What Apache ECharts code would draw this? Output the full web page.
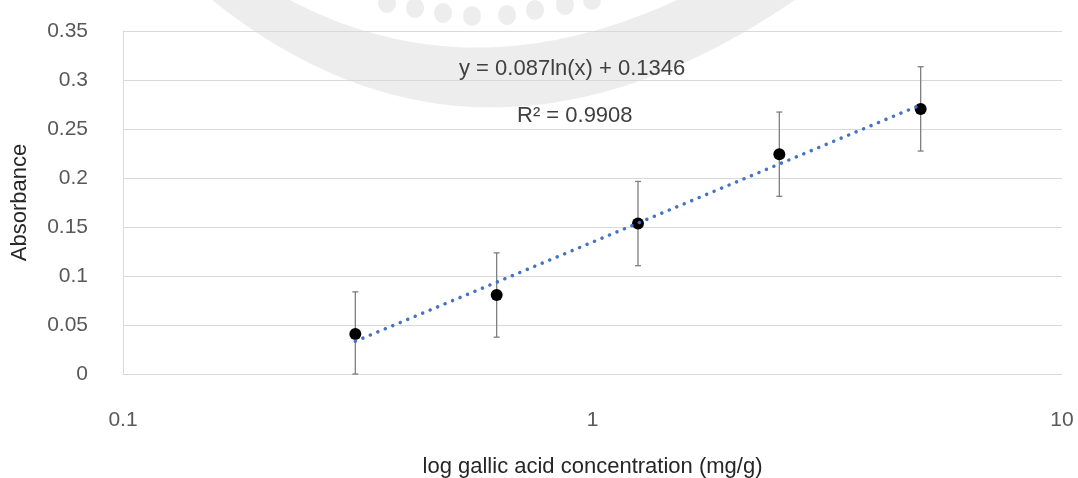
<!DOCTYPE html>
<html>
<head>
<meta charset="utf-8">
<script src="https://cdn.jsdelivr.net/npm/echarts@6/dist/echarts.min.js"></script>
<style>html,body{margin:0;padding:0;background:#fff}#c{width:1078px;height:478px}</style>
</head>
<body>
<div id="c"></div>
<script>
const concentrations = [0.3125, 0.625, 1.25, 2.5, 5];
const absorbance = [0.0408, 0.0806, 0.1535, 0.2243, 0.2705];
const errorPlus = [0.043, 0.043, 0.043, 0.043, 0.043];
const errorMinus = [0.043, 0.043, 0.043, 0.043, 0.043];
const trendX = [0.3125, 5];
const trendY = [0.0334, 0.2746];
const equationText = 'y = 0.087ln(x) + 0.1346';
const r2Text = 'R² = 0.9908';

const chart = echarts.init(document.getElementById('c'), null, {renderer: 'canvas'});
const errData = concentrations.map((x, i) => [x, Math.max(0, absorbance[i] - errorMinus[i]), absorbance[i] + errorPlus[i]]);
const txtColor = '#595959';
const font = 'Liberation Sans, Arial, sans-serif';
const wm = 'rgba(0,0,0,0.07)';

// faint background watermark (decoration)
function quadPts(p0, c, p1, n) {
  const out = [];
  for (let i = 0; i <= n; i++) {
    const t = i / n, u = 1 - t;
    out.push([u * u * p0[0] + 2 * u * t * c[0] + t * t * p1[0], u * u * p0[1] + 2 * u * t * c[1] + t * t * p1[1]]);
  }
  return out;
}
const wmOuter = quadPts([212, 0], [480, 215], [795, 0], 50);
const wmInner = quadPts([677, 0], [470, 95], [290, 0], 50);
const wmPoly = wmOuter.concat(wmInner);
const dots = [[387, 3], [415, 8], [443, 13], [472, 16], [507, 15], [535, 10], [565, 5], [592, 0]];

chart.setOption({
  animation: false,
  backgroundColor: '#fff',
  grid: {left: 123, right: 16, top: 31, bottom: 104, containLabel: false, outerBoundsMode: 'none'},
  xAxis: {
    type: 'log', logBase: 10, min: 0.1, max: 10,
    name: 'log gallic acid concentration (mg/g)', nameLocation: 'middle', nameGap: 82,
    nameTextStyle: {color: '#262626', fontSize: 22, fontFamily: font},
    axisLine: {show: true, lineStyle: {color: '#d9d9d9', width: 1}},
    axisTick: {show: false},
    splitLine: {show: false},
    minorTick: {show: false},
    axisLabel: {color: txtColor, fontSize: 21, fontFamily: font, margin: 36,
      formatter: v => String(parseFloat(v.toPrecision(3)))}
  },
  yAxis: {
    type: 'value', min: 0, max: 0.35, interval: 0.05,
    name: 'Absorbance', nameLocation: 'middle', nameGap: 92,
    nameTextStyle: {color: '#262626', fontSize: 22, fontFamily: font},
    axisLine: {show: true, lineStyle: {color: '#d9d9d9', width: 1}},
    axisTick: {show: false},
    splitLine: {show: true, lineStyle: {color: '#d9d9d9', width: 1}},
    axisLabel: {color: txtColor, fontSize: 21, fontFamily: font, margin: 35, padding: [0, 0, 12, 0],
      formatter: v => String(parseFloat(v.toFixed(2)))}
  },
  series: [
    {
      type: 'custom',
      data: errData,
      z: 3,
      renderItem: function (params, api) {
        const x = api.value(0);
        const lo = api.coord([x, api.value(1)]);
        const hi = api.coord([x, api.value(2)]);
        const w = 3;
        const st = {stroke: '#7f7f7f', lineWidth: 1.3};
        return {
          type: 'group',
          children: [
            {type: 'line', shape: {x1: lo[0], y1: lo[1], x2: hi[0], y2: hi[1]}, style: st},
            {type: 'line', shape: {x1: hi[0] - w, y1: hi[1], x2: hi[0] + w, y2: hi[1]}, style: st},
            {type: 'line', shape: {x1: lo[0] - w, y1: lo[1], x2: lo[0] + w, y2: lo[1]}, style: st}
          ]
        };
      }
    },
    {
      type: 'scatter',
      data: concentrations.map((x, i) => [x, absorbance[i]]),
      symbol: 'circle', symbolSize: 12,
      itemStyle: {color: '#000', opacity: 1},
      z: 4
    },
    {
      type: 'line',
      data: trendX.map((x, i) => [x, trendY[i]]),
      symbol: 'none',
      lineStyle: {color: '#4472C4', width: 3.5, type: [0.1, 8], cap: 'round'},
      z: 5
    }
  ],
  graphic: [
    {type: 'polygon', z: -10, silent: true, shape: {points: wmPoly}, style: {fill: wm}},
    {type: 'group', z: -10, silent: true, children: dots.map(d => ({
      type: 'ellipse', shape: {cx: d[0], cy: d[1], rx: 9, ry: 10}, style: {fill: wm}
    }))},
    {type: 'text', left: 459, top: 58, style: {text: equationText, fill: '#404040', font: '22px ' + font}},
    {type: 'text', left: 517, top: 105, style: {text: r2Text, fill: '#404040', font: '22px ' + font}}
  ]
});
</script>
</body>
</html>
